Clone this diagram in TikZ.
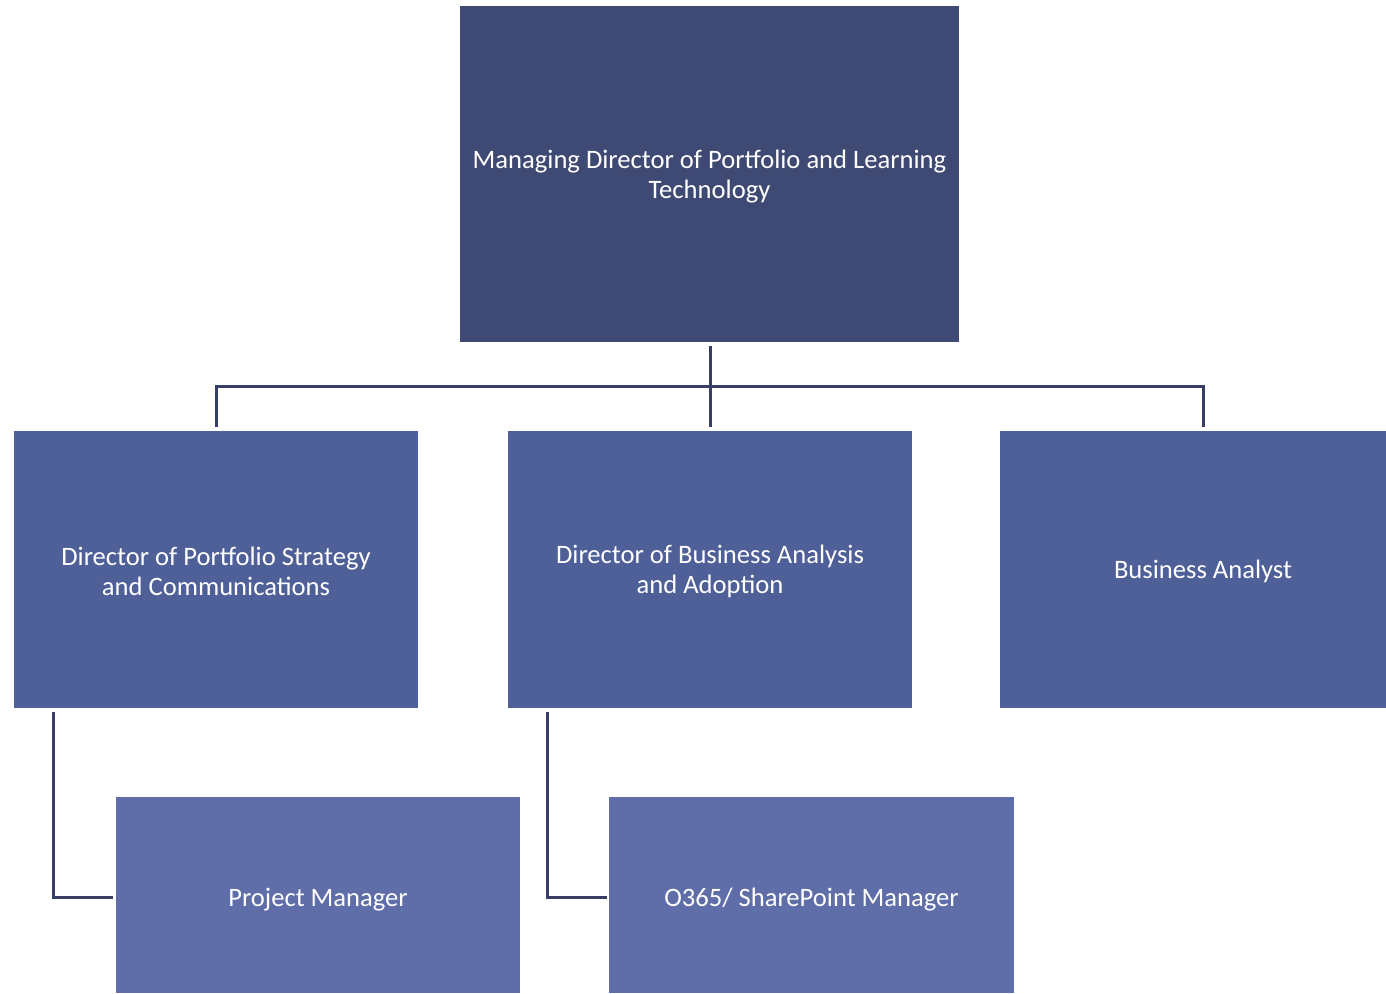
\documentclass[tikz,border=0pt]{standalone}
\usepackage{fontspec}
\setmainfont{Carlito}
\definecolor{topc}{HTML}{3F4A74}
\definecolor{midc}{HTML}{4F5F98}
\definecolor{lowc}{HTML}{5F6DA8}
\definecolor{linec}{HTML}{363E66}
\begin{document}
\begin{tikzpicture}[x=1pt,y=-1pt,
  lbl/.style={text=white,font=\fontsize{26.6}{30}\selectfont,align=center,inner sep=0pt},
  conn/.style={draw=linec,line width=3pt}]
\useasboundingbox (0,0) rectangle (1386,993);
% boxes
\fill[topc] (460,6) rectangle (959,342);
\fill[midc] (14,431) rectangle (418,708);
\fill[midc] (508,431) rectangle (912,708);
\fill[midc] (1000,431) rectangle (1386,708);
\fill[lowc] (116,797) rectangle (520,993);
\fill[lowc] (609,797) rectangle (1014,993);
% labels
\node[lbl] (md) at (709.5,177) {Managing Director of Portfolio and Learning\\Technology};
\node[lbl] (dps) at (216,571) {Director of Portfolio Strategy\\and Communications};
\node[lbl] (dba) at (710,571) {Director of Business Analysis\\and Adoption};
\node[lbl] (ba) at (1203,571) {Business Analyst};
\node[lbl] (pm) at (318,900) {Project Manager};
\node[lbl] (sp) at (811.5,900) {O365/ SharePoint Manager};
% connector anchor points
\coordinate (mdb) at (710,346);
\coordinate (bus) at (710,386);
\coordinate (dpst) at (216,427);
\coordinate (dbat) at (710,427);
\coordinate (bat) at (1203,427);
\coordinate (dpsb) at (53,712);
\coordinate (pml) at (113,897);
\coordinate (dbab) at (547,712);
\coordinate (spl) at (607,897);
\draw[conn] (mdb) -- (dbat);
\draw[conn] (dpst) |- (bus) -| (bat);
\draw[conn] (dpsb) |- (pml);
\draw[conn] (dbab) |- (spl);
\end{tikzpicture}
\end{document}
